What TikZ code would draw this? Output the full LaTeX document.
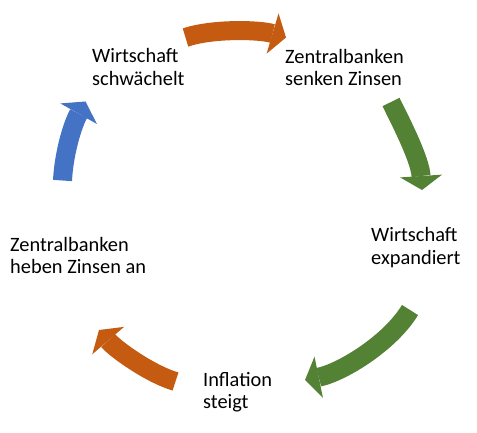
\documentclass[tikz,border=0pt]{standalone}
\usepackage{fontspec}
\setmainfont{Carlito}
\usetikzlibrary{arrows.meta}
\definecolor{arrOrange}{HTML}{C55A11}
\definecolor{arrGreen}{HTML}{548235}
\definecolor{arrBlue}{HTML}{4472C4}
\begin{document}
\begin{tikzpicture}[x=1pt,y=-1pt,
  lbl/.style={anchor=base west, inner sep=0pt, align=left,
    font=\fontsize{20.4}{22.5}\selectfont, text=black},
  cyc/.style={line width=19pt,
    -{Triangle[width=42pt,length=14pt,line width=0pt]}}]
\useasboundingbox (0,0) rectangle (477,433);
% text nodes (anchor at baseline of last line)
\node[lbl] (t1) at (92,85.5) {Wirtschaft\\schwächelt};
\node[lbl] (t2) at (285,85.8) {Zentralbanken\\senken Zinsen};
\node[lbl] (t3) at (371,264.3) {Wirtschaft\\expandiert};
\node[lbl] (t4) at (203,408.8) {Inflation\\steigt};
\node[lbl] (t5) at (10,273.8) {Zentralbanken\\heben Zinsen an};
% arrow end points
\coordinate (a1s) at (185.5,37.5);
\coordinate (a1e) at (286,37.5);
\coordinate (a2s) at (391,102);
\coordinate (a2e) at (422,190);
\coordinate (a3s) at (410,310);
\coordinate (a3e) at (305,380);
\coordinate (a4s) at (175.5,381.5);
\coordinate (a4e) at (99,330);
\coordinate (a5s) at (62.5,180.5);
\coordinate (a5e) at (85.5,101.5);
% arrows
\draw[cyc, arrOrange] (a1s) .. controls (212,28.5) and (259,29.5) .. (a1e);
\draw[cyc, arrGreen] (a2s) .. controls (403,126) and (420,160) .. (a2e);
\draw[cyc, arrGreen] (a3s) .. controls (390.4,342.6) and (342.2,372.4) .. (a3e);
\draw[cyc, arrOrange] (a4s) .. controls (150.5,374.2) and (116,349.7) .. (a4e);
\draw[cyc, arrBlue] (a5s) .. controls (63.9,153.5) and (72.3,125) .. (a5e);
\end{tikzpicture}
\end{document}
